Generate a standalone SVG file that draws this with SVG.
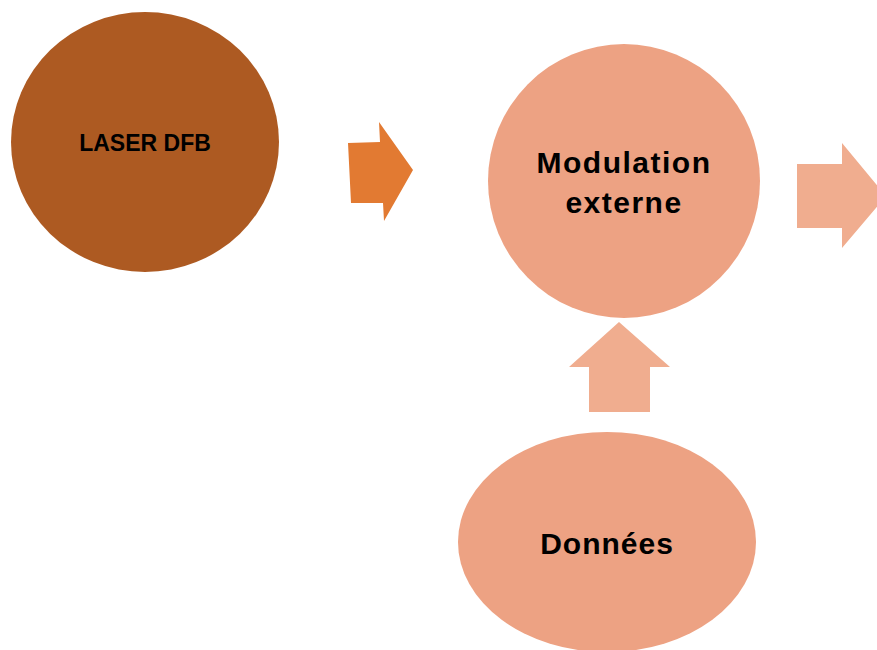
<svg xmlns="http://www.w3.org/2000/svg" width="877" height="650" viewBox="0 0 877 650">
  <style>
    .label { font-family: "Liberation Sans", Arial, sans-serif; font-weight: bold; fill: #000; text-anchor: middle; }
    .dark { fill: #AD5A22; }
    .light { fill: #EDA283; }
    .arrow-orange { fill: #E27A32; }
    .arrow-light { fill: #F0AD8F; }
  </style>
  <rect width="877" height="650" fill="#FFFFFF"/>

  <!-- block arrows between the stages -->
  <g id="connectors">
    <polygon class="arrow-orange" points="348,143 380,142 379,122 413,170 384,221 383,203 351,203"/>
    <polygon class="arrow-light" points="797,164 842,164 842,143 886,196 842,248 842,228 797,228"/>
    <polygon class="arrow-light" points="589,412 589,367 569,367 619,322 670,367 650,367 650,412"/>
  </g>

  <g id="laser">
    <ellipse class="dark" cx="145" cy="142" rx="134" ry="130"/>
    <text class="label" x="145" y="151" font-size="23">LASER DFB</text>
  </g>

  <g id="modulation">
    <ellipse class="light" cx="624" cy="181" rx="136" ry="137"/>
    <text class="label" x="624" y="173" font-size="30" letter-spacing="1.5">Modulation</text>
    <text class="label" x="624" y="213" font-size="30" letter-spacing="1.5">externe</text>
  </g>

  <g id="donnees">
    <ellipse class="light" cx="607" cy="542" rx="149" ry="110"/>
    <text class="label" x="607" y="554" font-size="30" letter-spacing="1">Données</text>
  </g>
</svg>
